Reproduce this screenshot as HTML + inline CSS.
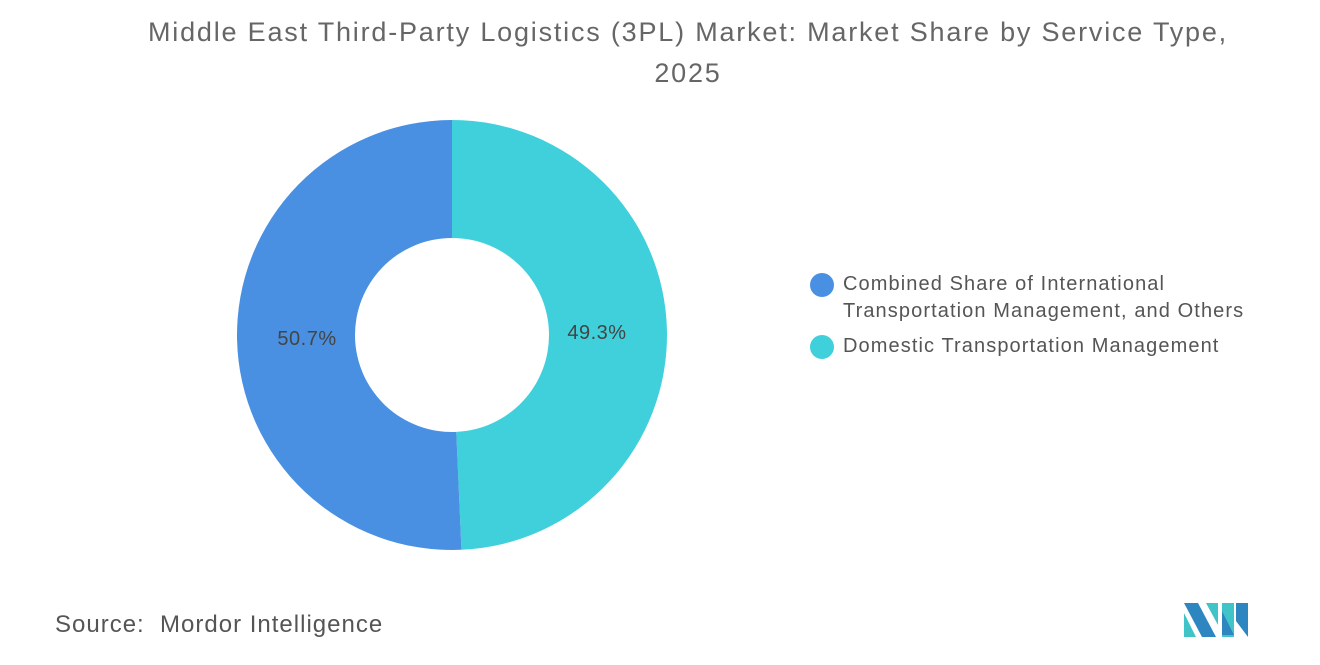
<!DOCTYPE html>
<html><head><meta charset="utf-8"><style>
body{margin:0;width:1320px;height:665px;background:#fff;font-family:"Liberation Sans",sans-serif;overflow:hidden;position:relative}
.t{position:absolute;left:28px;width:1320px;text-align:center;top:12px;font-size:27px;color:#666;line-height:41px;letter-spacing:1.8px}
.lg{position:absolute;left:812px;font-size:20px;color:#555;line-height:27px;letter-spacing:1.1px}
.dot{position:absolute;left:-2px;width:24px;height:24px;border-radius:50%}
</style></head><body>
<div class="t">Middle East Third-Party Logistics (3PL) Market: Market Share by Service Type,<br>2025</div>
<svg id="c" width="1320" height="665" style="position:absolute;left:0;top:0"></svg>
<div class="lg" style="top:271px"><span class="dot" style="background:#4a90e2;top:2px"></span><div style="margin-left:31px">Combined Share of International<br>Transportation Management, and Others</div></div>
<div class="lg" style="top:333px"><span class="dot" style="background:#40d0db;top:2px"></span><div style="margin-left:31px">Domestic Transportation Management</div></div>
<div style="position:absolute;left:55px;top:611px;font-size:24px;color:#555;letter-spacing:1px"><b style="font-weight:normal">Source:</b>&nbsp; Mordor Intelligence</div>
<svg width="66" height="40" style="position:absolute;left:1184px;top:601px">
<polygon points="0,2 14,2 32,36 18,36" fill="#2e86c1"/><polygon points="0,12 12,36 0,36" fill="#40c4c8"/>
<polygon points="22,2 34,2 34,24" fill="#40c4c8"/><polygon points="38,2 50,2 50,36 38,36" fill="#40c4c8"/>
<polygon points="52,2 64,2 64,36 52,20" fill="#2e86c1"/><polygon points="38,10 50,34 38,34" fill="#2e86c1"/>
</svg>
<script>
const labels=["Domestic Transportation Management","Combined Share of International Transportation Management, and Others"];
const values=[49.3,50.7];
const colors=["#40d0db","#4a90e2"];
const svg=document.getElementById('c');const NS="http://www.w3.org/2000/svg";
const cx=452,cy=335,R=215,r=97;
const total=values.reduce((a,b)=>a+b,0);let a0=0;
function pt(rad,a){return [cx+rad*Math.sin(a),cy-rad*Math.cos(a)];}
values.forEach((v,i)=>{
const a1=a0+v/total*2*Math.PI;const lg=(a1-a0)>Math.PI?1:0;
const [x1,y1]=pt(R,a0),[x2,y2]=pt(R,a1),[x3,y3]=pt(r,a1),[x4,y4]=pt(r,a0);
const p=document.createElementNS(NS,'path');
p.setAttribute('d',`M${x1},${y1}A${R},${R} 0 ${lg} 1 ${x2},${y2}L${x3},${y3}A${r},${r} 0 ${lg} 0 ${x4},${y4}Z`);
p.setAttribute('fill',colors[i]);


svg.appendChild(p);
const am=(a0+a1)/2;const [tx,ty]=pt(145,am);
const t=document.createElementNS(NS,'text');
t.setAttribute('x',tx);t.setAttribute('y',ty+7);t.setAttribute('text-anchor','middle');
t.setAttribute('font-size','20');t.setAttribute('fill','#444');t.setAttribute('font-family','Liberation Sans, sans-serif');
t.setAttribute('letter-spacing','0.5');
t.textContent=v.toFixed(1)+'%';


svg.appendChild(t);
a0=a1;});
</script>
</body></html>
